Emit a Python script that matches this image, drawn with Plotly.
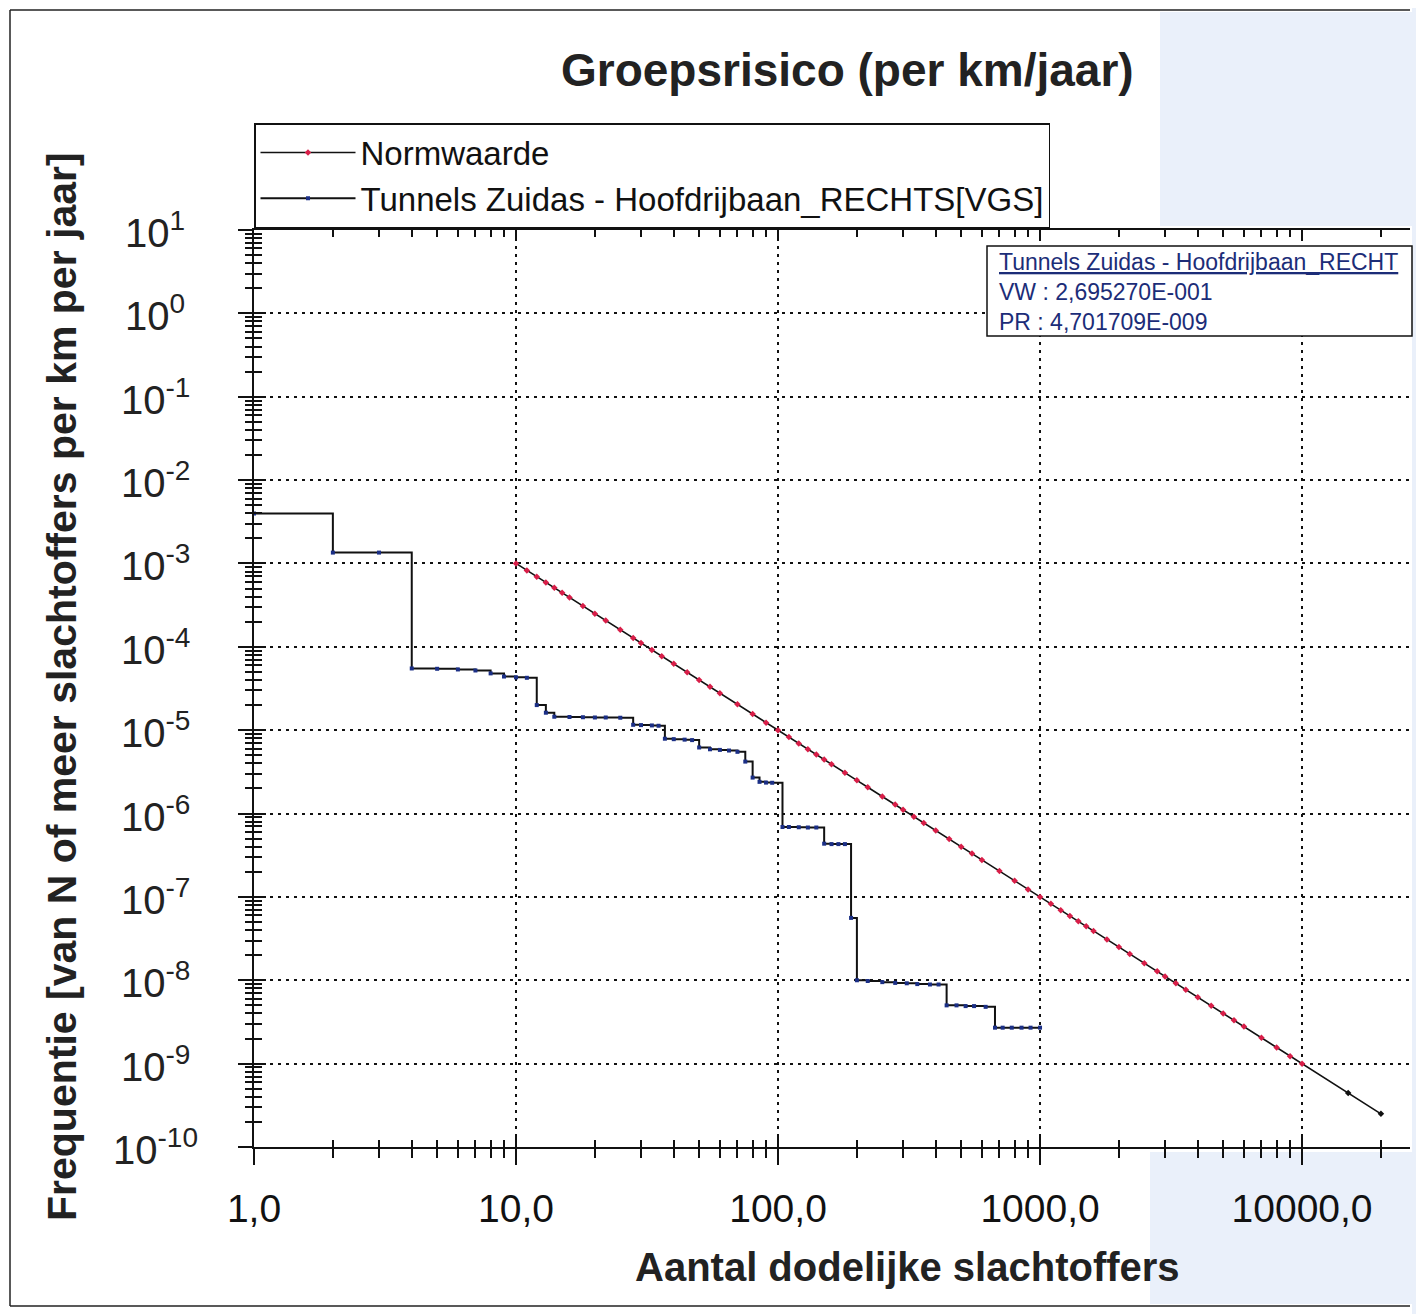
import plotly.graph_objects as go

# ---------------- data ----------------
# Normwaarde (norm line)
norm_n = [10, 11, 12, 13, 14, 15, 16, 18, 20, 22, 25, 28, 30, 33, 36, 40, 45, 50, 55, 60, 70, 80, 90,
          100, 110, 120, 130, 140, 150, 160, 180, 200, 220, 250, 280, 300, 330, 360, 400, 450, 500, 550, 600, 700, 800, 900,
          1000, 1100, 1200, 1300, 1400, 1500, 1600, 1800, 2000, 2200, 2500, 2800, 3000, 3300, 3600, 4000, 4500, 5000, 5500, 6000, 7000, 8000, 9000,
          10000, 15000, 20000]
norm_f = [1.00e-3, 8.26e-4, 6.94e-4, 5.92e-4, 5.10e-4, 4.44e-4, 3.91e-4, 3.09e-4, 2.50e-4, 2.07e-4, 1.60e-4, 1.28e-4, 1.11e-4, 9.18e-5, 7.72e-5, 6.25e-5, 4.94e-5, 4.00e-5, 3.31e-5, 2.78e-5, 2.04e-5, 1.56e-5, 1.23e-5,
          1.00e-5, 8.26e-6, 6.94e-6, 5.92e-6, 5.10e-6, 4.44e-6, 3.91e-6, 3.09e-6, 2.50e-6, 2.07e-6, 1.60e-6, 1.28e-6, 1.11e-6, 9.18e-7, 7.72e-7, 6.25e-7, 4.94e-7, 4.00e-7, 3.31e-7, 2.78e-7, 2.04e-7, 1.56e-7, 1.23e-7,
          1.00e-7, 8.26e-8, 6.94e-8, 5.92e-8, 5.10e-8, 4.44e-8, 3.91e-8, 3.09e-8, 2.50e-8, 2.07e-8, 1.60e-8, 1.28e-8, 1.11e-8, 9.18e-9, 7.72e-9, 6.25e-9, 4.94e-9, 4.00e-9, 3.31e-9, 2.78e-9, 2.04e-9, 1.56e-9, 1.23e-9,
          1.00e-9, 4.44e-10, 2.50e-10]

# FN curve Tunnels Zuidas - Hoofdrijbaan_RECHTS[VGS]
fn_n = [1, 2, 3, 4, 5, 6, 7, 8, 9, 10, 11, 12, 13, 14, 16, 18, 20, 22, 25, 28, 30, 33, 35, 37, 40, 44, 47,
        50, 55, 60, 65, 70, 75, 80, 85, 90, 95, 104, 110, 120, 130, 140, 150, 160, 170, 180, 190, 200,
        220, 250, 280, 310, 340, 380, 410, 440, 480, 520, 560, 620, 673, 720, 780, 850, 920, 1000]
fn_f = [3.98e-3, 1.35e-3, 1.35e-3, 5.5e-5, 5.45e-5, 5.35e-5, 5.2e-5, 4.8e-5, 4.4e-5, 4.3e-5, 4.25e-5, 2.0e-5, 1.62e-5, 1.45e-5, 1.44e-5, 1.43e-5, 1.42e-5, 1.42e-5, 1.41e-5, 1.16e-5, 1.15e-5, 1.14e-5, 1.13e-5, 7.9e-6, 7.8e-6, 7.7e-6, 7.6e-6,
        6.2e-6, 5.9e-6, 5.8e-6, 5.7e-6, 5.5e-6, 4.2e-6, 2.7e-6, 2.4e-6, 2.35e-6, 2.34e-6, 6.9e-7, 6.9e-7, 6.85e-7, 6.8e-7, 6.8e-7, 4.35e-7, 4.3e-7, 4.3e-7, 4.3e-7, 5.6e-8, 1.0e-8,
        9.8e-9, 9.5e-9, 9.3e-9, 9.2e-9, 9.0e-9, 8.9e-9, 8.9e-9, 5.0e-9, 5.0e-9, 4.9e-9, 4.9e-9, 4.8e-9, 2.7e-9, 2.7e-9, 2.7e-9, 2.7e-9, 2.7e-9, 2.7e-9]

x_tickvals = [1, 10, 100, 1000, 10000]
x_ticktext = ["1,0", "10,0", "100,0", "1000,0", "10000,0"]
y_exponents = [1, 0, -1, -2, -3, -4, -5, -6, -7, -8, -9, -10]

title_text = "Groepsrisico (per km/jaar)"
x_title = "Aantal dodelijke slachtoffers"
y_title = "Frequentie [van N of meer slachtoffers per km per jaar]"
info_lines = ["Tunnels Zuidas - Hoofdrijbaan_RECHT", "VW : 2,695270E-001", "PR : 4,701709E-009"]

# ---------------- layout geometry ----------------
# positions below are in screenshot pixels; the page body adds an 8px offset
W, H = 1424, 1314
OFF = 8
L, R, T, B = 254, 1410, 230, 1147
pw, ph = R - L, B - T


def px(xp):
    return (xp - L) / pw


def py(yp):
    return (B - yp) / ph


FONT = "Liberation Sans, Arial, sans-serif"
XR = [0, 4.412]
YR = [-10, 1]

x_minor = [m * 10 ** e for e in range(0, 5) for m in range(2, 10)]
y_minor = [m * 10.0 ** e for e in range(-10, 1) for m in range(2, 10)]

fig = go.Figure()

norm_colors = ["#d81e48" if n <= 10000 else "#111111" for n in norm_n]
fig.add_trace(go.Scatter(
    x=norm_n, y=norm_f, name="Normwaarde", mode="lines+markers",
    line=dict(color="#111111", width=1.6),
    marker=dict(color=norm_colors, size=5, symbol="diamond"),
))
fig.add_trace(go.Scatter(
    x=fn_n, y=fn_f, name="Tunnels Zuidas - Hoofdrijbaan_RECHTS[VGS]", mode="lines+markers",
    line=dict(color="#111111", width=2, shape="hv"),
    marker=dict(color="#1b2f86", size=4, symbol="square"),
))
# helper trace so the overlay axes (crossing tick marks) are drawn
fig.add_trace(go.Scatter(x=fn_n, y=fn_f, xaxis="x2", yaxis="y2", mode="none",
                         showlegend=False, hoverinfo="skip"))

grid_common = dict(showgrid=True, gridcolor="#111111", gridwidth=2, griddash="3px,5px")

fig.update_layout(
    width=W, height=H,
    margin=dict(l=L - OFF, r=W - (R - OFF), t=T - OFF, b=H - (B - OFF)),
    paper_bgcolor="white", plot_bgcolor="white",
    font=dict(family=FONT, color="#111111"),
    showlegend=True,
    legend=dict(x=0, y=py(123), xanchor="left", yanchor="top",
                bgcolor="white", bordercolor="#111111", borderwidth=1.5,
                font=dict(size=33, family=FONT, color="#111111"),
                itemwidth=95, tracegroupgap=0),
    xaxis=dict(type="log", range=XR, tickmode="array", tickvals=x_tickvals, ticktext=x_ticktext,
               ticks="outside", ticklen=16, tickwidth=2, tickcolor="#111111",
               showline=True, linewidth=2, linecolor="#111111", zeroline=False,
               tickfont=dict(size=39, family=FONT, color="#111111"), ticklabelstandoff=10,
               minor=dict(tickmode="array", tickvals=x_minor, ticks="outside", ticklen=9,
                          tickwidth=1.5, tickcolor="#111111", showgrid=False),
               **grid_common),
    xaxis2=dict(type="log", range=XR, overlaying="x", anchor="y2", side="bottom",
                tickmode="array", tickvals=x_tickvals, showticklabels=False,
                ticks="inside", ticklen=10, tickwidth=2, tickcolor="#111111",
                showline=True, linewidth=2, linecolor="#111111", mirror="ticks",
                showgrid=False, zeroline=False,
                minor=dict(tickmode="array", tickvals=x_minor, ticks="inside", ticklen=7,
                           tickwidth=1.5, tickcolor="#111111", showgrid=False)),
    yaxis=dict(type="log", range=YR, tickmode="array", tickvals=[10.0 ** e for e in y_exponents],
               showticklabels=False,
               ticks="outside", ticklen=14, tickwidth=2, tickcolor="#111111",
               showline=True, linewidth=2, linecolor="#111111", zeroline=False,
               minor=dict(tickmode="array", tickvals=y_minor, ticks="outside", ticklen=7,
                          tickwidth=1.5, tickcolor="#111111", showgrid=False),
               **grid_common),
    yaxis2=dict(type="log", range=YR, overlaying="y", anchor="x2", side="left",
                tickmode="array", tickvals=[10.0 ** e for e in y_exponents], showticklabels=False,
                ticks="inside", ticklen=12, tickwidth=2, tickcolor="#111111",
                showline=False, showgrid=False, zeroline=False,
                minor=dict(tickmode="array", tickvals=y_minor, ticks="inside", ticklen=8,
                           tickwidth=1.5, tickcolor="#111111", showgrid=False)),
)

annotations = []
# title
annotations.append(dict(text="<b>" + title_text + "</b>", x=px(847), y=py(70), xref="paper", yref="paper",
                        xanchor="center", yanchor="middle", showarrow=False,
                        font=dict(size=46, family=FONT, color="#222222")))
# axis titles
annotations.append(dict(text="<b>" + x_title + "</b>", x=px(907), y=py(1267), xref="paper", yref="paper",
                        xanchor="center", yanchor="middle", showarrow=False,
                        font=dict(size=40, family=FONT, color="#222222")))
annotations.append(dict(text="<b>" + y_title + "</b>", x=px(62), y=py(687), xref="paper", yref="paper",
                        xanchor="center", yanchor="middle", textangle=-90, showarrow=False,
                        font=dict(size=41, family=FONT, color="#222222")))
# y tick labels (centred, as in the original)
for e in y_exponents:
    annotations.append(dict(text="10<sup>%d</sup>" % e, x=px(155), y=e, xref="paper", yref="y",
                            xanchor="center", yanchor="middle", showarrow=False,
                            font=dict(size=40, family=FONT, color="#222222")))
# info box text
annotations.append(dict(text="<u>" + info_lines[0] + "</u><br>" + info_lines[1] + "<br>" + info_lines[2],
                        x=px(997), y=py(247), xref="paper", yref="paper", xanchor="left", yanchor="top",
                        align="left", showarrow=False,
                        font=dict(size=23, family=FONT, color="#1c2d78")))
fig.update_layout(annotations=annotations)

shapes = []
tint = "#eaf0fa"
# scan tint regions
shapes.append(dict(type="rect", xref="paper", yref="paper", x0=px(1160), x1=px(W + 20), y0=py(226), y1=py(12),
                   fillcolor=tint, line=dict(width=0), layer="below"))
shapes.append(dict(type="rect", xref="paper", yref="paper", x0=px(R + 2), x1=px(W + 20), y0=py(H + 20), y1=py(0),
                   fillcolor=tint, line=dict(width=0), layer="below"))
shapes.append(dict(type="rect", xref="paper", yref="paper", x0=px(1150), x1=px(W + 20), y0=py(1304), y1=py(1152),
                   fillcolor=tint, line=dict(width=0), layer="below"))
# outer frame (left, top, bottom)
shapes.append(dict(type="line", xref="paper", yref="paper", x0=px(10), x1=px(10), y0=py(10), y1=py(1306),
                   line=dict(color="#222222", width=1.5)))
shapes.append(dict(type="line", xref="paper", yref="paper", x0=px(10), x1=px(1410), y0=py(10), y1=py(10),
                   line=dict(color="#222222", width=1.5)))
shapes.append(dict(type="line", xref="paper", yref="paper", x0=px(10), x1=px(1410), y0=py(1306), y1=py(1306),
                   line=dict(color="#222222", width=1.5)))
# info box
shapes.append(dict(type="rect", xref="paper", yref="paper", x0=px(987), x1=px(1412), y0=py(336), y1=py(246),
                   fillcolor="white", line=dict(color="#111111", width=1.5), layer="above"))
fig.update_layout(shapes=shapes)

fig.write_html("out.html")
